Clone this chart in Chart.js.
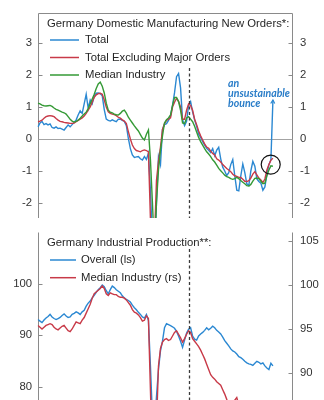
<!DOCTYPE html>
<html>
<head>
<meta charset="utf-8">
<script src="https://cdn.jsdelivr.net/npm/chart.js@4.4.1/dist/chart.umd.min.js"></script>
<style>
  html, body { margin: 0; padding: 0; background: #fff; width: 324px; height: 400px; overflow: hidden; }
  canvas { position: absolute; left: 0; }
  #orders { top: 0; }
  #production { top: 225px; }
</style>
</head>
<body>
<canvas id="orders" width="324" height="225"></canvas>
<canvas id="production" width="324" height="220"></canvas>
<script>
// ---- data -------------------------------------------------------------
// monthly categories, Jul 2015 onwards
const FIRST_MONTH = [2015, 6];
const MONTH_COUNT = 128;
const MONTH_NAMES = ['Jan','Feb','Mar','Apr','May','Jun','Jul','Aug','Sep','Oct','Nov','Dec'];
const months = [];
for (let k = 0; k < MONTH_COUNT; k++) {
  const m = FIRST_MONTH[1] + k;
  months.push(MONTH_NAMES[m % 12] + ' ' + (FIRST_MONTH[0] + Math.floor(m / 12)));
}
const MARKER_MONTH = 'Oct 2021';

// new orders, standardised
const totalOrders = [
  0.38,0.50,0.55,0.45,0.48,0.44,0.47,0.36,0.34,0.38,
  0.33,0.34,0.31,0.28,0.36,0.44,0.38,0.45,0.52,0.60,
  0.75,0.88,0.80,1.10,1.40,0.96,1.22,1.10,1.36,1.43,
  1.44,1.42,1.35,0.92,0.62,0.58,0.56,0.60,0.57,0.54,
  0.62,0.62,0.58,0.55,0.42,0.02,-0.30,-0.50,-0.58,-0.56,
  -0.55,-0.62,-0.66,-0.55,-0.64,-0.44,-1.60,-3.20,-3.60,-2.00,
  -0.55,-0.80,0.30,0.45,0.48,0.58,0.72,1.05,1.45,1.95,
  2.05,1.60,0.60,0.42,0.55,1.05,1.17,0.85,0.60,0.40,
  0.15,0.05,-0.08,-0.19,-0.29,-0.35,-0.42,-0.30,-0.52,-0.35,
  -0.26,-0.62,-0.88,-1.00,-1.14,-1.05,-0.80,-0.64,-1.15,-1.60,
  -1.62,-1.15,-0.78,-1.05,-1.40,-1.45,-1.00,-0.70,-0.85,-1.25,
  -1.33,-1.38,-1.60,-1.50,-1.10,-0.80,-0.65,1.22
];
const exMajorOrders = [
  0.54,0.56,0.59,0.65,0.70,0.72,0.73,0.72,0.70,0.64,
  0.59,0.55,0.54,0.52,0.51,0.50,0.49,0.49,0.50,0.54,
  0.58,0.62,0.66,0.72,0.80,0.90,1.00,1.15,1.30,1.38,
  1.42,1.43,1.40,1.22,1.00,0.85,0.80,0.78,0.76,0.73,
  0.68,0.65,0.60,0.56,0.48,0.23,0.00,-0.19,-0.30,-0.36,
  -0.38,-0.40,-0.36,-0.34,-0.36,-0.40,-2.50,-3.50,-3.20,-1.30,
  -0.70,-0.25,0.30,0.48,0.58,0.62,0.66,1.00,1.15,1.27,
  1.18,1.00,0.62,0.62,0.90,1.10,1.05,0.90,0.62,0.45,
  0.25,0.10,-0.03,-0.15,-0.25,-0.29,-0.38,-0.45,-0.50,-0.62,
  -0.66,-0.72,-0.80,-0.86,-0.92,-0.97,-1.02,-1.10,-1.15,-1.17,
  -1.20,-1.20,-1.26,-1.32,-1.33,-1.30,-1.22,-1.10,-1.02,-1.12,
  -1.22,-1.28,-1.36,-1.25,-0.97,-0.80,-0.66,-0.60
];
const medianOrders = [
  1.12,1.10,1.06,1.04,1.03,1.04,1.05,1.02,0.97,0.93,
  0.90,0.87,0.84,0.82,0.78,0.70,0.62,0.56,0.53,0.55,
  0.59,0.65,0.72,0.78,0.84,0.95,1.10,1.25,1.40,1.58,
  1.72,1.78,1.65,1.44,1.12,0.90,0.84,0.82,0.78,0.76,
  0.75,0.80,0.87,0.90,0.81,0.68,0.59,0.50,0.41,0.33,
  0.25,0.14,0.03,-0.03,0.15,0.28,-0.65,-2.00,-3.50,-2.00,
  -0.97,-0.34,0.10,0.50,0.60,0.66,0.75,1.05,1.30,1.30,
  1.17,0.90,0.50,0.48,0.66,0.70,0.62,0.54,0.40,0.22,
  0.05,-0.08,-0.19,-0.30,-0.40,-0.47,-0.55,-0.65,-0.72,-0.82,
  -0.92,-0.99,-1.06,-1.13,-1.18,-1.20,-1.24,-1.26,-1.24,-1.20,
  -1.24,-1.30,-1.35,-1.40,-1.46,-1.47,-1.42,-1.32,-1.23,-1.22,
  -1.24,-1.32,-1.40,-1.38,-1.15,-0.97,-0.84,-0.85
];

// industrial production, index
const ipOverall = [
  93.0,92.7,92.4,92.9,93.3,93.6,94.0,93.5,93.2,93.0,
  93.2,93.4,93.8,94.1,93.7,93.4,93.5,94.0,94.2,94.5,
  94.3,94.0,94.5,94.8,95.6,96.2,96.6,97.2,97.7,98.3,
  98.8,99.2,99.7,99.4,98.6,98.0,98.8,99.5,99.2,98.8,
  98.5,98.2,97.6,97.2,96.9,96.7,96.4,95.8,95.3,94.9,
  94.4,94.0,93.5,93.3,94.0,92.8,84.0,74.0,72.5,78.0,
  83.3,86.9,88.8,91.4,92.2,92.0,91.8,91.6,91.3,90.7,
  89.8,88.8,87.6,89.0,90.4,91.1,91.4,89.8,89.2,89.0,
  89.8,90.2,90.5,90.9,91.4,91.0,91.3,91.7,91.4,90.9,
  90.6,90.2,89.6,88.9,88.4,87.9,87.3,86.9,86.7,86.3,
  85.8,85.6,85.3,84.9,84.6,84.4,84.3,84.1,84.5,84.9,
  84.7,84.4,84.6,84.0,83.6,83.3,84.5,84.0
];
const ipMedian = [
  95.4,95.2,95.0,95.2,95.4,95.5,95.6,95.5,95.2,95.0,
  94.9,95.1,95.3,95.4,95.1,94.8,94.7,95.0,95.4,95.8,
  95.7,95.6,96.0,96.3,96.8,97.3,97.8,98.5,99.0,99.2,
  99.4,99.6,99.9,99.6,99.0,98.8,99.1,99.0,98.9,98.9,
  98.7,98.6,98.6,98.5,98.3,98.0,97.7,97.2,96.9,96.8,
  96.6,96.3,95.9,96.0,96.5,96.2,88.0,80.0,79.0,84.0,
  90.8,92.8,93.5,93.8,93.9,93.7,93.8,94.2,94.6,94.8,
  94.4,94.0,93.5,93.9,94.4,94.8,94.6,93.9,93.6,93.3,
  93.0,92.6,92.1,91.6,91.0,90.4,89.8,89.5,89.3,89.0,
  88.8,88.6,88.1,87.6,87.0,86.5,86.2,86.5,86.9,87.2,
  86.4,85.9,85.6,85.4,85.2,85.0,85.1,84.8,84.6,84.4,
  84.5,84.2,84.0,84.1,83.8,83.6,83.9,83.7
];

// tick labels
const ordersTicks = [-2, -1, 0, 1, 2, 3];
const ipLeftTicks = [70, 80, 90, 100];
const ipRightTicks = [85, 90, 95, 100, 105];

// ---- styling ----------------------------------------------------------
const BLUE = '#2b88d2';
const RED = '#c83a48';
const GREEN = '#359a36';
const NOTE_BLUE = '#2a7dc8';
const AXIS = '#8a8a8a';
const TEXT = '#262626';
const FONT = '"Liberation Sans", Arial, Helvetica, sans-serif';
const FONT_SIZE = 11.3;

const markerIndex = months.indexOf(MARKER_MONTH);

function fixedTicks(values) {
  return (scale) => { scale.ticks = values.map(v => ({ value: v })); };
}

function yAxis(position, min, max, values, width) {
  return {
    type: 'linear', position, min, max,
    afterBuildTicks: fixedTicks(values),
    afterFit: (s) => { s.width = width; s.paddingTop = 0; s.paddingBottom = 0; },
    grid: { display: false, drawTicks: false },
    border: { display: false },
    ticks: {
      padding: position === 'left' ? 6 : 7,
      color: '#333',
      font: { family: FONT, size: FONT_SIZE }
    }
  };
}

// axis frame, inward tick marks, zero line, dashed marker and legend block
const panelDecor = {
  id: 'panelDecor',
  beforeDatasetsDraw(chart, _args, o) {
    const { ctx, chartArea: a, scales } = chart;
    const L = Math.round(a.left) + 0.5, R = Math.round(a.right) - 0.5;
    const T = Math.round(a.top) + 0.5, B = a.bottom;
    ctx.save();
    ctx.lineWidth = 1;
    ctx.strokeStyle = AXIS;
    ctx.beginPath();
    ctx.moveTo(L, B); ctx.lineTo(L, T);
    if (o.box) ctx.lineTo(R, T); else ctx.moveTo(R, T);
    ctx.lineTo(R, B);
    ctx.stroke();
    ['yL', 'yR'].forEach(id => {
      const s = scales[id];
      s.ticks.forEach(t => {
        const y = Math.round(s.getPixelForValue(t.value)) + 0.5;
        if (y < a.top || y > a.bottom) return;
        ctx.beginPath();
        if (s.position === 'left') { ctx.moveTo(L, y); ctx.lineTo(L + 4, y); }
        else { ctx.moveTo(R - 4, y); ctx.lineTo(R, y); }
        ctx.stroke();
      });
    });
    if (o.zeroLine) {
      const y = Math.round(scales.yL.getPixelForValue(0)) + 0.5;
      ctx.strokeStyle = '#a3a3a3';
      ctx.beginPath(); ctx.moveTo(L, y); ctx.lineTo(R, y); ctx.stroke();
    }
    ctx.restore();
  },
  afterDatasetsDraw(chart, _args, o) {
    const { ctx, chartArea: a, scales } = chart;
    const x = Math.round(scales.x.getPixelForValue(markerIndex)) + 0.5;
    const y0 = scales.yL.getPixelForValue(o.markerFrom);
    ctx.save();
    ctx.setLineDash([3, 2.5]);
    ctx.lineWidth = 1.3;
    ctx.strokeStyle = '#3a3a3a';
    ctx.beginPath(); ctx.moveTo(x, y0); ctx.lineTo(x, a.bottom); ctx.stroke();
    ctx.restore();
  },
  afterDraw(chart, _args, o) {
    const { ctx, chartArea: a } = chart;
    const x0 = a.left + 9;
    ctx.save();
    ctx.font = FONT_SIZE + 'px ' + FONT;
    ctx.fillStyle = TEXT;
    ctx.textBaseline = 'middle';
    ctx.fillText(o.title, x0, o.rows[0]);
    chart.data.datasets.forEach((ds, k) => {
      const y = o.rows[k + 1];
      ctx.strokeStyle = ds.borderColor;
      ctx.lineWidth = 1.5;
      ctx.beginPath();
      ctx.moveTo(a.left + 12, y); ctx.lineTo(a.left + 12 + o.swatch, y);
      ctx.stroke();
      ctx.fillText(ds.label, a.left + 12 + o.swatch + o.gap, y);
    });
    ctx.restore();
  }
};

// callout on the latest orders reading
const bounceNote = {
  id: 'bounceNote',
  afterDraw(chart) {
    const { ctx, scales } = chart;
    const last = totalOrders.length - 1;
    const cx = scales.x.getPixelForValue(last - 1.1);
    const cy = scales.yL.getPixelForValue(-0.8);
    ctx.save();
    ctx.strokeStyle = '#111';
    ctx.lineWidth = 1.2;
    ctx.beginPath(); ctx.arc(cx, cy, 9.5, 0, Math.PI * 2); ctx.stroke();

    // small arrow head on the last reading
    const tx = scales.x.getPixelForValue(last);
    const ty = scales.yL.getPixelForValue(totalOrders[last]);
    ctx.strokeStyle = BLUE;
    ctx.lineWidth = 1.2;
    ctx.beginPath();
    ctx.moveTo(tx - 2.2, ty + 3.5); ctx.lineTo(tx, ty); ctx.lineTo(tx + 1.8, ty + 3.5);
    ctx.stroke();

    // narrow bold italic caption, squeezed to a 62px measure
    const lines = ['an', 'unsustainable', 'bounce'];
    const fam = 'Lato, "Open Sans", "Liberation Sans", sans-serif';
    ctx.font = 'italic bold 11.5px ' + fam;
    const sx = 62 / ctx.measureText(lines[1]).width;
    ctx.fillStyle = NOTE_BLUE;
    ctx.textBaseline = 'middle';
    const left = chart.chartArea.left + 190;
    [83, 93, 103].forEach((y, k) => {
      ctx.save();
      ctx.translate(left, y);
      ctx.scale(sx, 1);
      ctx.fillText(lines[k], 0, 0);
      ctx.restore();
    });
    ctx.restore();
  }
};

const lineStyle = (color) => ({
  borderColor: color, backgroundColor: color, borderWidth: 1.4,
  pointRadius: 0, tension: 0, fill: false
});

// ---- new orders panel -------------------------------------------------
new Chart(document.getElementById('orders'), {
  type: 'line',
  data: {
    labels: months,
    datasets: [
      { label: 'Total', data: totalOrders, yAxisID: 'yL', order: 2, ...lineStyle(BLUE) },
      { label: 'Total Excluding Major Orders', data: exMajorOrders, yAxisID: 'yL', order: 1, ...lineStyle(RED) },
      { label: 'Median Industry', data: medianOrders, yAxisID: 'yL', order: 0, ...lineStyle(GREEN) }
    ]
  },
  options: {
    responsive: false,
    animation: false,
    events: [],
    layout: { padding: { top: 13, bottom: 7, left: 0, right: 0 } },
    scales: {
      x: { type: 'category', display: false, offset: false },
      yL: yAxis('left', -2.47, 3.94, ordersTicks, 38),
      yR: yAxis('right', -2.47, 3.94, ordersTicks, 31)
    },
    plugins: {
      legend: { display: false },
      tooltip: { enabled: false },
      panelDecor: {
        box: true, zeroLine: true, markerFrom: 2.22,
        title: 'Germany Domestic Manufacturing New Orders*:',
        rows: [24, 40, 57.5, 75], swatch: 29, gap: 6
      }
    }
  },
  plugins: [panelDecor, bounceNote]
});

// ---- industrial production panel --------------------------------------
new Chart(document.getElementById('production'), {
  type: 'line',
  data: {
    labels: months,
    datasets: [
      { label: 'Overall (ls)', data: ipOverall, yAxisID: 'yL', order: 1, ...lineStyle(BLUE) },
      { label: 'Median Industry (rs)', data: ipMedian, yAxisID: 'yR', order: 0, ...lineStyle(RED) }
    ]
  },
  options: {
    responsive: false,
    animation: false,
    events: [],
    layout: { padding: { top: 7, bottom: 7, left: 0, right: 0 } },
    scales: {
      x: { type: 'category', display: false, offset: false },
      yL: yAxis('left', 70, 110, ipLeftTicks, 38),
      yR: yAxis('right', 82.61, 106.02, ipRightTicks, 31)
    },
    plugins: {
      legend: { display: false },
      tooltip: { enabled: false },
      panelDecor: {
        box: false, zeroLine: false, markerFrom: 106.7,
        title: 'Germany Industrial Production**:',
        rows: [18.3, 35, 52.7], swatch: 26, gap: 5
      }
    }
  },
  plugins: [panelDecor]
});
</script>
</body>
</html>
